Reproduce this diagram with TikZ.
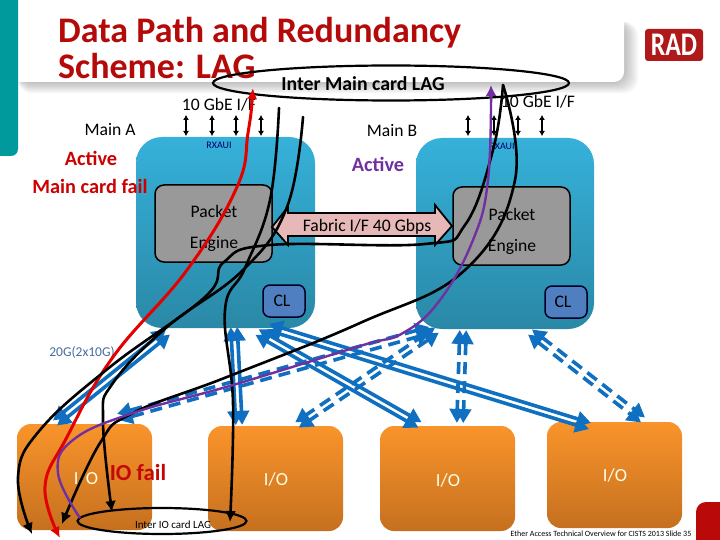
\documentclass[tikz,border=0pt]{standalone}
\usepackage{fontspec}
\setmainfont{Carlito}
\usetikzlibrary{arrows.meta,calc,shapes.geometric}
\definecolor{tealbar}{HTML}{00999C}
\definecolor{titlered}{HTML}{B50A0A}
\definecolor{bluetop}{HTML}{36B1DA}
\definecolor{bluebot}{HTML}{2A88A6}
\definecolor{greybox}{HTML}{999999}
\definecolor{clblue}{HTML}{4F7FC0}
\definecolor{orangetop}{HTML}{FA942B}
\definecolor{orangebot}{HTML}{C5701F}
\definecolor{linkblue}{HTML}{0F6FC0}
\definecolor{pathpurple}{HTML}{7030A0}
\definecolor{pinkfab}{HTML}{E6B8B7}
\tikzset{
  x=1pt,y=-1pt,
  mainbox/.style={draw=none,rounded corners=26pt,top color=bluetop,bottom color=bluebot},
  engine/.style={draw=black,line width=1.5pt,fill=greybox,rounded corners=9pt},
  clbox/.style={draw=black!85!blue,line width=1.5pt,fill=clblue,rounded corners=7pt},
  iobox/.style={draw=none,rounded corners=14pt,top color=orangetop,bottom color=orangebot},
  lab/.style={inner sep=0pt,font=\fontsize{17.6}{19}\selectfont},
  redlab/.style={inner sep=0pt,text=titlered!80!red,font=\fontsize{20.3}{22}\selectfont\bfseries},
  iolab/.style={inner sep=0pt,text=white!90!yellow,font=\fontsize{18.5}{20}\selectfont},
  port/.style={draw=black,line width=1.8pt,{Latex[length=5pt,width=6pt]}-{Latex[length=5pt,width=6pt]}},
  curve/.style={draw=black,line width=2.6pt,line cap=round},
  thead/.style={-{Latex[length=11pt,width=11pt]}},
  solidlink/.style={draw=linkblue,line width=3.6pt,{Triangle[length=14pt,width=15pt]}-{Triangle[length=14pt,width=15pt]}},
  dashlink/.style={solidlink,dash pattern=on 12pt off 7pt},
  lag/.style={draw=black,line width=2.2pt,ellipse,inner sep=0pt},
}
\newcommand{\twolines}[3]{%
  \draw[#1] ($(#2)!3.2pt!90:(#3)$) -- ($(#3)!3.2pt!-90:(#2)$);
  \draw[#1] ($(#2)!3.2pt!-90:(#3)$) -- ($(#3)!3.2pt!90:(#2)$);
}
\begin{document}
\begin{tikzpicture}
\path[use as bounding box,fill=white] (0,0) rectangle (720,540);
% title band with soft shadow
\foreach \d in {14,12,10,8,6,4,2,0}{
  \fill[black,opacity=.035,rounded corners=14pt] (18,22) rectangle ({624+\d},{82+\d*.8});
}
\node[fill=white,draw=none,rounded corners=10pt,minimum width=614pt,minimum height=68pt,inner sep=0pt] (band) at (317,48) {};
% side bar and corner
\fill[tealbar,rounded corners=7pt] (-10,-10) rectangle (18,156);
\fill[titlered!95!red,rounded corners=10pt] (696,502) rectangle (740,560);
\node[inner sep=0pt,anchor=north west,align=left,text=titlered,font=\fontsize{36}{36}\selectfont\bfseries] (title) at (58,17) {Data Path and Redundancy\\Scheme: LAG};
% logo
\node[fill=red!65!black!90,draw=none,rounded corners=3pt,minimum width=58pt,minimum height=32pt,inner sep=0pt] (logo) at (674,45) {};
\node[inner sep=0pt,text=white,font=\fontsize{33}{34}\selectfont\bfseries,xscale=.78] (logotext) at (674,45) {RAD};
% cards
\path[mainbox] (136,137) rectangle (315,328);
\path[mainbox] (416,138) rectangle (594,329);
\draw[engine] (155,185) rectangle (272,262);
\draw[engine] (453,187) rectangle (570,265);
\draw[clbox] (263,285) rectangle (305,317);
\draw[clbox] (545,286) rectangle (587,318);
\path[iobox] (17,424) rectangle (152,530);
\path[iobox] (208,426) rectangle (343,531);
\path[iobox] (380,426) rectangle (515,531);
\path[iobox] (547,422) rectangle (682,528);
% fabric arrow
\draw[fill=pinkfab,draw=black,line width=1.8pt] (272,227) -- (288,207) -- (288,213) -- (435,213) -- (435,205) -- (452,226) -- (435,245) -- (435,236) -- (288,236) -- (288,245) -- cycle;
% labels
\node[lab] (t1) at (219,105) {10 GbE I/F};
\node[lab] (t2) at (538,102) {10 GbE I/F};
\node[lab] (t3) at (110,130) {Main A};
\node[lab] (t4) at (392,131) {Main B};
\node[redlab,text=red!80!black] (t5) at (91,158) {Active};
\node[redlab,text=red!80!black] (t6) at (90,186) {Main card fail};
\node[redlab,text=pathpurple] (t7) at (378,164) {Active};
\node[inner sep=0pt,text=black!60!blue,font=\fontsize{10}{11}\selectfont] (t8) at (219,145) {RXAUI};
\node[inner sep=0pt,text=black!60!blue,font=\fontsize{10}{11}\selectfont] (t9) at (502,146) {RXAUI};
\node[lab] (p1) at (214,211) {Packet};
\node[lab] (e1) at (214,244) {Engine};
\node[lab] (p2) at (512,214) {Packet};
\node[lab] (e2) at (512,247) {Engine};
\node[lab] (fab) at (367,227) {Fabric I/F 40 Gbps};
\node[lab] (cl1) at (282,301) {CL};
\node[lab] (cl2) at (563,302) {CL};
\node[iolab] (io1) at (86,478) {I/O};
\node[redlab,font=\fontsize{23}{25}\selectfont\bfseries] (iof) at (138,473) {IO fail};
\node[iolab] (io2) at (276,479) {I/O};
\node[iolab] (io3) at (448,480) {I/O};
\node[iolab] (io4) at (615,475) {I/O};
\node[inner sep=0pt,text=clblue!85!black,font=\fontsize{13.5}{14}\selectfont] (g20) at (82,352) {20G(2x10G)};
\node[inner sep=0pt,font=\fontsize{8}{10}\selectfont] (foot) at (601,534) {Ether Access Technical Overview for CISTS 2013 Slide 35};
% port arrows
\foreach \x/\n in {186/a,212/b,236/c,261/d,468/e,494/f,518/g,542/h}{
  \coordinate (u\n) at (\x,115);
  \coordinate (v\n) at (\x,136);
  \draw[port] (u\n) -- (v\n);
}
% blue links
\coordinate (A1) at (168,332); \coordinate (I1) at (55,423);
\coordinate (A2) at (234,327); \coordinate (I2) at (239,425);
\coordinate (A3) at (257,332); \coordinate (I3) at (420,425);
\coordinate (A4) at (268,327); \coordinate (I4) at (590,426);
\coordinate (B1) at (430,330); \coordinate (J1) at (118,417);
\coordinate (B2) at (437,330); \coordinate (J2) at (297,425);
\coordinate (B3) at (463,330); \coordinate (J3) at (460,423);
\coordinate (B4) at (530,332); \coordinate (J4) at (643,420);
\twolines{solidlink}{A1}{I1}
\twolines{solidlink}{A2}{I2}
\twolines{solidlink}{A3}{I3}
\twolines{solidlink}{A4}{I4}
\twolines{dashlink}{B1}{J1}
\twolines{dashlink}{B2}{J2}
\twolines{dashlink}{B3}{J3}
\twolines{dashlink}{B4}{J4}
% LAG ellipses
\node[lag,minimum width=356pt,minimum height=35pt] (mlag) at (391,83) {};
\node[lag,minimum width=169pt,minimum height=26pt] (ilag) at (162,521) {};
\node[inner sep=0pt,font=\fontsize{19.8}{21}\selectfont\bfseries] (mlagt) at (363,84) {Inter Main card LAG};
\node[inner sep=0pt,font=\fontsize{11}{12}\selectfont] (ilagt) at (173,525) {Inter IO card LAG};
% failure and traffic paths
\coordinate (r0) at (253,88); \coordinate (r1) at (60,538);
\draw[draw=red!90!black,line width=3pt,{Latex[length=11pt,width=10pt]}-{Latex[length=11pt,width=10pt]}] plot[smooth,tension=.7] coordinates {(r0) (248,133) (237,187) (187,270) (113,357) (67,437) (45,487) (r1)};
\coordinate (k0) at (279,108); \coordinate (k1) at (230,522);
\draw[curve,thead] plot[smooth,tension=.7] coordinates {(k0) (270,200) (245,268) (225,310) (233,403) (k1)};
\coordinate (k2) at (303,117); \coordinate (k3) at (112,512);
\draw[curve,thead] plot[smooth,tension=.7] coordinates {(k2) (287,207) (243,270) (167,327) (113,383) (103,420) (k3)};
\coordinate (k4) at (503,85); \coordinate (k5) at (32,534);
\draw[curve,thead] plot[smooth,tension=.7] coordinates {(k4) (493,150) (465,225) (425,244) (270,245) (224,262) (205,297) (110,367) (40,430) (18,477) (k5)};
\coordinate (k6) at (503,85); \coordinate (k7) at (62,524);
\draw[curve,thead] plot[smooth,tension=.7] coordinates {(k6) (515,180) (465,270) (360,323) (227,377) (133,413) (100,443) (k7)};
\coordinate (p0) at (491,85); \coordinate (p1e) at (80,518);
\draw[draw=pathpurple,line width=2.4pt,thead] plot[smooth,tension=.7] coordinates {(p1e) (58,473) (73,440) (133,413) (233,385) (360,346) (403,333) (440,300) (473,240) (488,180) (p0)};
\end{tikzpicture}
\end{document}
